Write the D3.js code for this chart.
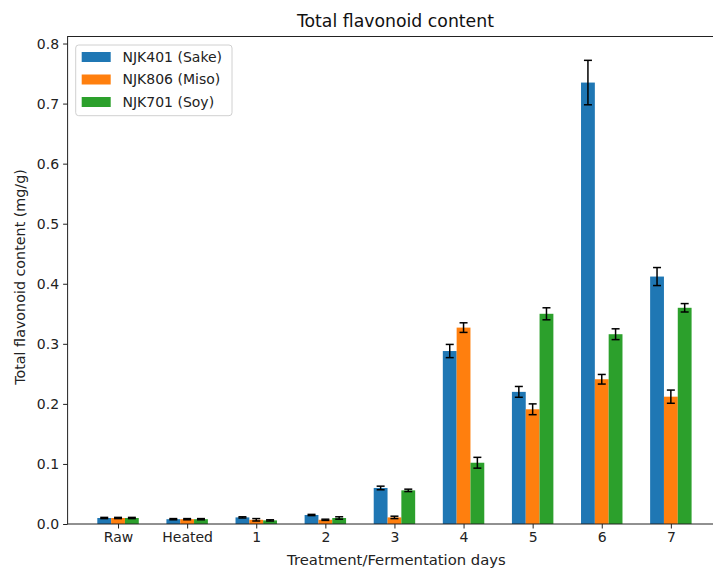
<!DOCTYPE html>
<html>
<head>
<meta charset="utf-8">
<script src="https://cdn.jsdelivr.net/npm/d3@7"></script>
<style>
  html, body { margin: 0; padding: 0; background: #fff; }
  svg { display: block; font-family: "DejaVu Sans", sans-serif; }
</style>
</head>
<body>
<svg id="chart" width="713" height="569"></svg>
<script>
// Categories and strain series (mg/g), with standard deviations
const categories = ["Raw", "Heated", "1", "2", "3", "4", "5", "6", "7"];
const seriesNames = ["NJK401 (Sake)", "NJK806 (Miso)", "NJK701 (Soy)"];
const sakeValues = [0.010, 0.008, 0.011, 0.015, 0.060, 0.288, 0.220, 0.735, 0.412];
const misoValues = [0.010, 0.008, 0.007, 0.007, 0.011, 0.327, 0.191, 0.241, 0.212];
const soyValues  = [0.010, 0.008, 0.006, 0.010, 0.056, 0.102, 0.350, 0.316, 0.360];
const sakeErrors = [0.001, 0.001, 0.001, 0.001, 0.003, 0.011, 0.009, 0.037, 0.015];
const misoErrors = [0.001, 0.001, 0.002, 0.001, 0.002, 0.008, 0.009, 0.008, 0.011];
const soyErrors  = [0.001, 0.001, 0.001, 0.002, 0.002, 0.009, 0.010, 0.009, 0.007];
const yTicks = [0.0, 0.1, 0.2, 0.3, 0.4, 0.5, 0.6, 0.7, 0.8];
const colors = ["#1f77b4", "#ff7f0e", "#2ca02c"];

const series = [
  { name: seriesNames[0], values: sakeValues, errors: sakeErrors, color: colors[0] },
  { name: seriesNames[1], values: misoValues, errors: misoErrors, color: colors[1] },
  { name: seriesNames[2], values: soyValues,  errors: soyErrors,  color: colors[2] }
];

const svg = d3.select("#chart");
const plot = { left: 67.6, right: 721.3, top: 36.5, bottom: 524 };
const barWidth = 0.2;

// Linear x scale in category-index units
const x = d3.scaleLinear().domain([-0.73, 8.73]).range([plot.left, plot.right]);
const y = d3.scaleLinear().domain([0, 0.8117]).range([plot.bottom, plot.top]);
const bw = x(barWidth) - x(0);

// Bars
series.forEach((s, si) => {
  const offset = (si - 1) * barWidth;
  const g = svg.append("g");
  g.selectAll("rect")
    .data(s.values)
    .join("rect")
    .attr("x", (d, i) => x(i + offset) - bw / 2)
    .attr("y", d => y(d))
    .attr("width", bw)
    .attr("height", d => y(0) - y(d))
    .attr("fill", s.color);
});

// Error bars
series.forEach((s, si) => {
  const offset = (si - 1) * barWidth;
  const g = svg.append("g").attr("stroke", "#000").attr("stroke-width", 1.5);
  s.values.forEach((v, i) => {
    const cx = x(i + offset);
    const lo = y(v - s.errors[i]);
    const hi = y(v + s.errors[i]);
    g.append("line").attr("x1", cx).attr("x2", cx).attr("y1", lo).attr("y2", hi);
    g.append("line").attr("x1", cx - 4).attr("x2", cx + 4).attr("y1", lo).attr("y2", lo);
    g.append("line").attr("x1", cx - 4).attr("x2", cx + 4).attr("y1", hi).attr("y2", hi);
  });
});

// Axes
const xAxis = d3.axisBottom(x)
  .tickValues(d3.range(categories.length))
  .tickFormat(i => categories[i])
  .tickSize(4.5).tickPadding(4);
const yAxis = d3.axisLeft(y)
  .tickValues(yTicks)
  .tickFormat(d3.format(".1f"))
  .tickSize(4.5).tickPadding(4);

const gx = svg.append("g").attr("transform", `translate(0,${plot.bottom})`).call(xAxis);
const gy = svg.append("g").attr("transform", `translate(${plot.left},0)`).call(yAxis);
[gx, gy].forEach(g => {
  g.select(".domain").remove();
  g.selectAll("text").attr("font-size", 14).attr("fill", "#222")
    .attr("font-family", "DejaVu Sans, sans-serif");
  g.selectAll("line").attr("stroke", "#222");
});

// Frame
svg.append("rect")
  .attr("x", plot.left).attr("y", plot.top)
  .attr("width", plot.right - plot.left).attr("height", plot.bottom - plot.top)
  .attr("fill", "none").attr("stroke", "#222").attr("stroke-width", 1);

// Title and axis labels
const cxMid = (plot.left + plot.right) / 2;
svg.append("text").attr("x", cxMid + 1).attr("y", 27).attr("text-anchor", "middle")
  .attr("font-size", 17.3).attr("fill", "#111").text("Total flavonoid content");
svg.append("text").attr("x", cxMid + 2).attr("y", 564.5).attr("text-anchor", "middle")
  .attr("font-size", 14.8).attr("fill", "#222").text("Treatment/Fermentation days");
svg.append("text")
  .attr("transform", `translate(25,277) rotate(-90)`)
  .attr("text-anchor", "middle").attr("font-size", 14.3).attr("fill", "#222")
  .text("Total flavonoid content (mg/g)");

// Legend
const legend = svg.append("g");
legend.append("rect").attr("x", 75.7).attr("y", 45).attr("width", 156.3).attr("height", 70.7)
  .attr("rx", 3).attr("fill", "#fff").attr("fill-opacity", 0.8)
  .attr("stroke", "#d0d0d0").attr("stroke-width", 1);
series.forEach((s, si) => {
  const cy = 57 + si * 22.5;
  legend.append("rect").attr("x", 81.7).attr("y", cy - 5).attr("width", 29).attr("height", 10)
    .attr("fill", s.color);
  legend.append("text").attr("x", 122.5).attr("y", cy + 4.8).attr("font-size", 14)
    .attr("fill", "#222").text(s.name);
});
</script>
</body>
</html>
